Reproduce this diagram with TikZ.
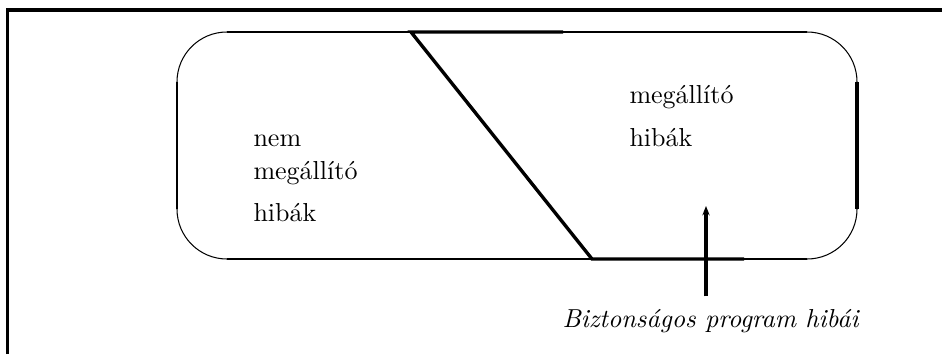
\documentclass[tikz,border=0pt]{standalone}
\usepackage{fontspec}
\usetikzlibrary{arrows.meta}

\tikzset{
  arcline/.style={line width=0.4pt},
  thinline/.style={line width=0.8pt},
  thickline/.style={line width=1.3pt},
  txt/.style={anchor=base west, inner sep=0pt}
}

\begin{document}
\begin{tikzpicture}[x=0.3846pt, y=-0.3846pt]
    \useasboundingbox (0,0) rectangle (942,354);

    % Frame (cut at right and bottom)
    \draw[line width=1.4pt] (7.5,354) -- (7.5,10) -- (942,10);

    % Oval of all errors
    \draw[arcline, rounded corners=19.2pt] (177,32) rectangle (857,259);
    \draw[thinline] (227,32) -- (807,32);
    \draw[thinline] (227,259) -- (807,259);
    \draw[thinline] (177,82) -- (177,209);
    \draw[thickline] (857,82) -- (857,209);

    % Border between the two kinds
    \draw[thickline] (563,32) -- (411,32) -- (592,259) -- (744,259);

    % Texts
    \node[txt] (nem) at (253,146) {nem};
    \node[txt] (megl) at (253,179) {megállító};
    \node[txt] (hibl) at (253,221) {hibák};
    \node[txt] (megr) at (629,103) {megállító};
    \node[txt] (hibr) at (629,146) {hibák};
    \node[txt] (safeerr) at (562,327) {\itshape Biztonságos program hibái};

    % Arrow to the safe program's errors
    \coordinate (tip) at (706,206);
    \draw[thickline, -{Stealth[length=3.6pt, width=2.8pt]}]
        ([yshift=4.6pt]safeerr.north -| tip) -- (tip);
\end{tikzpicture}
\end{document}
